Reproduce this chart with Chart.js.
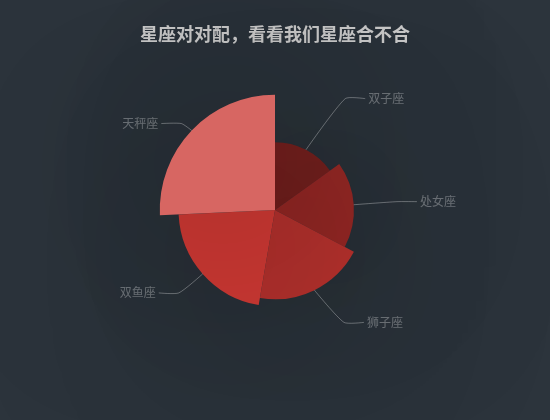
<!DOCTYPE html>
<html>
<head>
<meta charset="utf-8">
<script src="https://cdn.jsdelivr.net/npm/chart.js@4/dist/chart.umd.min.js"></script>
<style>
  html, body { margin: 0; padding: 0; background: #2c343c; }
  canvas { display: block; }
</style>
</head>
<body>
<canvas id="roseChart" width="550" height="420"></canvas>
<script>
// data, sorted small -> large like the original rose
const signs = ['双子座', '处女座', '狮子座', '双鱼座', '天秤座'];
const matchValues = [235, 274, 310, 335, 400];
const chartTitle = '星座对对配，看看我们星座合不合';

// visual map: value 80..600 -> lightness 0..1 of #c23531
const lightMin = 80;
const lightMax = 600;

const total = matchValues.reduce((a, b) => a + b, 0);
const maxValue = Math.max(...matchValues);

function sliceColor(v) {
    const l = Math.min(1, Math.max(0, (v - lightMin) / (lightMax - lightMin)));
    return 'hsl(1.66, 59.7%, ' + (l * 100).toFixed(2) + '%)';
}

// pie radius is 55% of half the short side, like the original
const pieRadius = 0.55 * 420 / 2;
const titleHeight = 23 + 18 * 1.2;
const drawingArea = (420 - 2 * titleHeight) / 2;
const scaleMax = maxValue * drawingArea / pieRadius;

const canvas = document.getElementById('roseChart');

const bgAndLabels = {
    id: 'bgAndLabels',
    beforeDraw(chart) {
        const ctx = chart.ctx;
        ctx.save();
        ctx.fillStyle = '#2c343c';
        ctx.fillRect(0, 0, chart.width, chart.height);
        ctx.restore();
    },
    beforeDatasetsDraw(chart) {
        const ctx = chart.ctx;
        ctx.save();
        ctx.shadowBlur = 200;
        ctx.shadowColor = 'rgba(0, 0, 0, 0.5)';
    },
    afterDatasetsDraw(chart) {
        const ctx = chart.ctx;
        ctx.restore();

        const meta = chart.getDatasetMeta(0);
        const R = chart.scales.r.getDistanceFromCenterForValue(maxValue);
        const len = 10, len2 = 20;

        ctx.save();
        ctx.strokeStyle = 'rgba(255, 255, 255, 0.3)';
        ctx.fillStyle = 'rgba(255, 255, 255, 0.3)';
        ctx.lineWidth = 1;
        ctx.font = '12px "Noto Sans CJK SC", sans-serif';
        ctx.textBaseline = 'middle';

        meta.data.forEach((arc, i) => {
            const p = arc.getProps(['x', 'y', 'startAngle', 'endAngle', 'outerRadius'], true);
            const mid = (p.startAngle + p.endAngle) / 2;
            const dx = Math.cos(mid), dy = Math.sin(mid);
            const dir = dx < 0 ? -1 : 1;

            const x1 = p.x + p.outerRadius * dx;
            const y1 = p.y + p.outerRadius * dy;
            const ext = len + R - p.outerRadius;
            let x2 = x1 + dx * ext;
            const y2 = y1 + dy * ext;

            // push label out onto a circle, same as echarts does
            const deltaY = Math.abs(y2 - p.y);
            const deltaX = deltaY < R + len
                ? Math.sqrt((R + len + len2) * (R + len + len2) - deltaY * deltaY)
                : Math.abs(x2 + dir * (len2 + 5) - p.x);
            const tx = p.x + dir * deltaX;
            const x3 = tx - dir * 3;
            x2 = x3 - dir * len2;

            // smooth 0.2 on the elbow
            const smooth = 0.2;
            const vx = (x3 - x1) * smooth, vy = (y2 - y1) * smooth;
            const d0 = Math.hypot(x2 - x1, y2 - y1);
            const d1 = Math.hypot(x3 - x2, 0);
            const s = d0 + d1 || 1;
            const cp0x = x2 - vx * d0 / s, cp0y = y2 - vy * d0 / s;
            const cp1x = x2 + vx * d1 / s, cp1y = y2 + vy * d1 / s;

            ctx.beginPath();
            ctx.moveTo(x1, y1);
            ctx.bezierCurveTo(x1, y1, cp0x, cp0y, x2, y2);
            ctx.bezierCurveTo(cp1x, cp1y, x3, y2, x3, y2);
            ctx.stroke();

            ctx.textAlign = dir > 0 ? 'left' : 'right';
            ctx.fillText(signs[i], tx, y2);
        });
        ctx.restore();
    }
};

const roseChart = new Chart(canvas, {
    type: 'polarArea',
    data: {
        labels: signs,
        datasets: [
            {
                data: matchValues,
                backgroundColor: matchValues.map(sliceColor),
                borderWidth: 0,
                clip: false,
                angle: (ctx) => matchValues[ctx.dataIndex] / total * 360
            }
        ]
    },
    options: {
        responsive: false,
        animation: false,
        events: [],
        layout: {
            padding: { bottom: titleHeight }
        },
        scales: {
            r: {
                display: false,
                min: 0,
                max: scaleMax,
                startAngle: 0
            }
        },
        plugins: {
            legend: { display: false },
            tooltip: { enabled: false },
            title: {
                display: true,
                text: chartTitle,
                color: '#ccc',
                padding: { top: 23, bottom: 0 },
                font: { size: 18, weight: 'bold', family: '"Noto Sans CJK SC", sans-serif' }
            }
        }
    },
    plugins: [bgAndLabels]
});
</script>
</body>
</html>
